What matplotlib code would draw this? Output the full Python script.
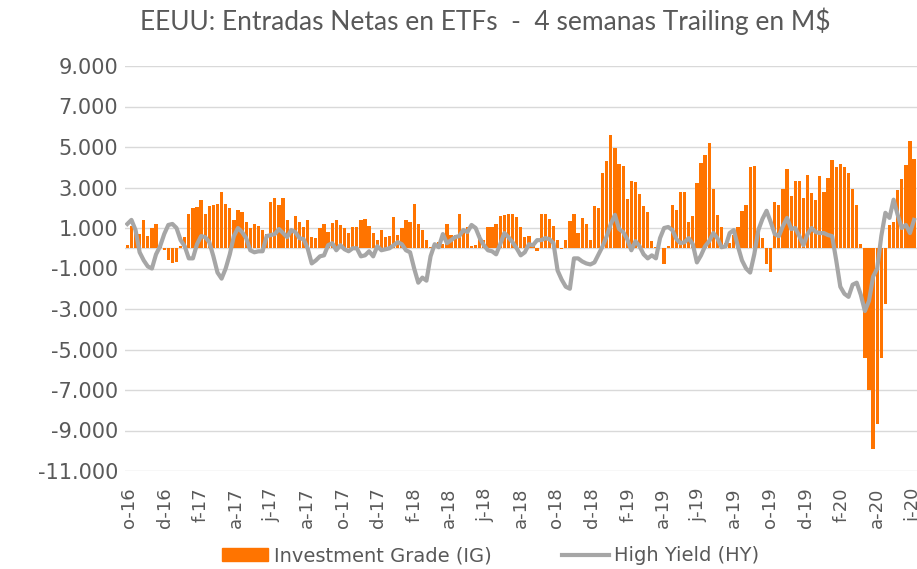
import matplotlib
matplotlib.use('Agg')
from matplotlib import pyplot as plt
from matplotlib.patches import Patch
from matplotlib.lines import Line2D
import numpy as np
import pandas as pd

# Entradas netas semanales (4 semanas trailing), en M$
fecha_inicio = '2016-09-28'
ig = [150, 1100, 1000, 700, 1400, 600, 1000, 1200, 50, -100,
      -600, -750, -700, 100, 550, 1700, 2000, 2050, 2400, 1700,
      2100, 2150, 2200, 2800, 2200, 2000, 1400, 1900, 1800, 1300,
      1000, 1200, 1100, 900, 700, 2300, 2500, 2150, 2500, 1400,
      900, 1600, 1300, 1050, 1400, 550, 500, 1000, 1200, 800,
      1250, 1400, 1150, 1000, 750, 1050, 1050, 1400, 1450, 1100,
      750, 400, 900, 550, 600, 1550, 650, 1000, 1400, 1300,
      2200, 1200, 900, 400, 50, 0, 300, 200, 1200, 650,
      650, 1700, 900, 1050, 100, 150, 650, 400, 1050, 1050,
      1200, 1600, 1650, 1700, 1700, 1550, 1050, 550, 600, 100,
      -150, 1700, 1700, 1450, 1100, 400, -50, 400, 1350, 1700,
      750, 1500, 1200, 400, 2100, 2000, 3700, 4300, 5600, 4950,
      4150, 4050, 2450, 3300, 3250, 2700, 2100, 1800, 350, 50,
      0, -800, 100, 2150, 1900, 2800, 2800, 1300, 1600, 3200,
      4200, 4600, 5200, 2950, 1650, 1050, 250, 250, 650, 1050,
      1850, 2150, 4000, 4050, 900, 500, -800, -1150, 2300, 2150,
      2950, 3900, 2600, 3300, 3300, 2500, 3600, 2750, 2400, 3550,
      2800, 3450, 4350, 4000, 4150, 4000, 3700, 2950, 2150, 200,
      -5400, -7000, -9900, -8700, -5400, -2750, 1150, 1300, 2900, 3400,
      4100, 5300, 4400]
hy = [1200, 1400, 900, -200, -600, -900, -1000, -300, 100, 700,
      1150, 1200, 1000, 400, 100, -500, -500, 200, 600, 550,
      300, -400, -1200, -1500, -1000, -300, 600, 1000, 800, 500,
      -100, -200, -150, -150, 600, 650, 700, 950, 750, 550,
      900, 800, 500, 450, 0, -750, -600, -400, -350, 150,
      250, -100, 150, -50, -150, 0, 0, -400, -350, -150,
      -400, 100, -100, -50, 0, 150, 300, 200, -100, -200,
      -1000, -1700, -1450, -1600, -400, 200, 50, 700, 250, 400,
      550, 600, 900, 800, 1150, 1000, 500, 150, -100, -150,
      -300, 200, 750, 550, 300, 0, -350, -200, 200, 150,
      400, 400, 500, 450, 250, -1100, -1550, -1900, -2000, -500,
      -500, -650, -750, -800, -700, -300, 100, 600, 1200, 1650,
      950, 800, 450, -100, 350, 100, -300, -500, -350, -500,
      500, 1000, 1050, 900, 450, 250, 300, 500, 200, -700,
      -350, 100, 350, 750, 500, 50, 100, 750, 900, 100,
      -600, -1000, -1200, -300, 900, 1450, 1850, 1300, 700, 600,
      1100, 1500, 950, 1000, 600, 150, 700, 1000, 800, 750,
      750, 650, 600, -600, -1900, -2250, -2400, -1800, -1700, -2300,
      -3100, -2600, -1400, -1000, 600, 1750, 1500, 2400, 1650, 1000,
      1150, 750, 1400]
iniciales_mes = ['e', 'f', 'm', 'a', 'm', 'j', 'j', 'a', 's', 'o', 'n', 'd']

gris_texto = '#595959'
fechas = pd.date_range(fecha_inicio, periods=len(ig), freq='7D')

fig = plt.figure(figsize=(9.17, 5.69), dpi=100)
ax = fig.add_axes([125 / 917, 1 - 471 / 569, 792 / 917, 405 / 569])

ax.bar(fechas, ig, width=5.6, color='#FF7400', zorder=2)
ax.plot(fechas, hy, color='#A6A6A6', linewidth=3, zorder=3, solid_joinstyle='round')

# eje y: -11.000 .. 9.000 cada 2.000
ax.set_ylim(-11000, 9000)
ax.set_yticks(np.arange(-11000, 9001, 2000))
ax.yaxis.set_major_formatter(lambda v, p: f'{v:,.0f}'.replace(',', '.'))
ax.grid(axis='y', color='#D9D9D9', linewidth=1, zorder=0)
ax.axhline(0, color='#D9D9D9', linewidth=1, zorder=1)

# eje x: etiquetas cada 2 meses, p.ej. "o-16"
ticks = pd.date_range('2016-10-01', '2020-06-01', freq='2MS')
ax.set_xticks(ticks)
ax.set_xticklabels([f'{iniciales_mes[t.month - 1]}-{t.strftime("%y")}' for t in ticks],
                   rotation=90, fontsize=13)
ax.set_xlim(pd.Timestamp('2016-09-24'), pd.Timestamp('2020-06-08'))

for s in ax.spines.values():
    s.set_visible(False)
ax.tick_params(axis='both', length=0, colors=gris_texto)
ax.tick_params(axis='y', labelsize=15, pad=5)
ax.tick_params(axis='x', pad=12)

fig.text(0.529, 0.963, 'EEUU: Entradas Netas en ETFs  -  4 semanas Trailing en M$',
         ha='center', va='center', fontsize=19, color=gris_texto, family='Lato')

handles = [Patch(color='#FF7400'), Line2D([], [], color='#A6A6A6', linewidth=3)]
fig.legend(handles, ['Investment Grade (IG)', 'High Yield (HY)'],
           loc='center', bbox_to_anchor=(0.535, 0.023), ncol=2, frameon=False,
           fontsize=14, labelcolor=gris_texto, handlelength=2.4, handleheight=0.67,
           handletextpad=0.3, columnspacing=3.6)

plt.savefig('out.png', dpi=100)
